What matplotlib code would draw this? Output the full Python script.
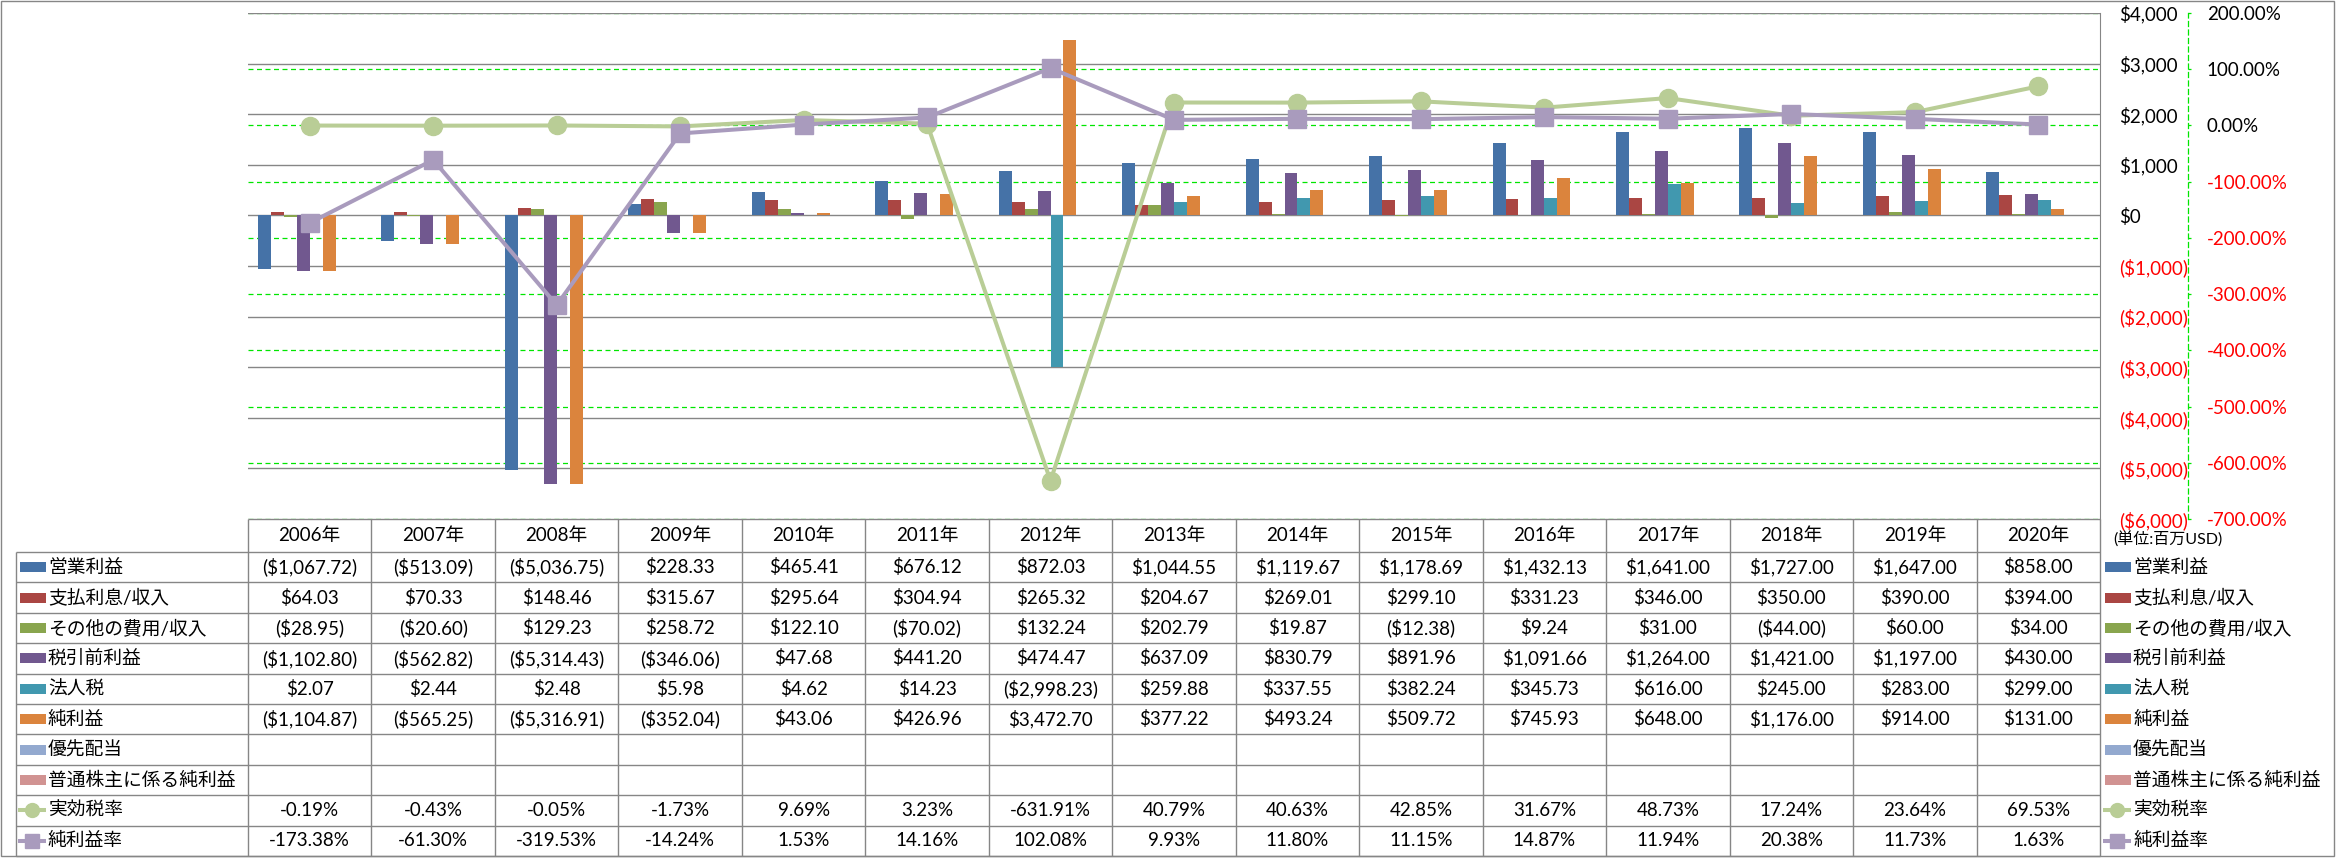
import numpy as np
import matplotlib
matplotlib.use('Agg')
import matplotlib.pyplot as plt
from matplotlib.patches import Rectangle

plt.rcParams['font.family'] = ['Lato', 'Noto Sans CJK JP']

# ---- data (百万USD) ----
years = ['2006年', '2007年', '2008年', '2009年', '2010年', '2011年', '2012年', '2013年',
         '2014年', '2015年', '2016年', '2017年', '2018年', '2019年', '2020年']
operating_income = [-1067.72, -513.09, -5036.75, 228.33, 465.41, 676.12, 872.03, 1044.55,
                    1119.67, 1178.69, 1432.13, 1641.00, 1727.00, 1647.00, 858.00]
interest = [64.03, 70.33, 148.46, 315.67, 295.64, 304.94, 265.32, 204.67,
            269.01, 299.10, 331.23, 346.00, 350.00, 390.00, 394.00]
other_expense = [-28.95, -20.60, 129.23, 258.72, 122.10, -70.02, 132.24, 202.79,
                 19.87, -12.38, 9.24, 31.00, -44.00, 60.00, 34.00]
pretax_income = [-1102.80, -562.82, -5314.43, -346.06, 47.68, 441.20, 474.47, 637.09,
                 830.79, 891.96, 1091.66, 1264.00, 1421.00, 1197.00, 430.00]
income_tax = [2.07, 2.44, 2.48, 5.98, 4.62, 14.23, -2998.23, 259.88,
              337.55, 382.24, 345.73, 616.00, 245.00, 283.00, 299.00]
net_income = [-1104.87, -565.25, -5316.91, -352.04, 43.06, 426.96, 3472.70, 377.22,
              493.24, 509.72, 745.93, 648.00, 1176.00, 914.00, 131.00]
preferred_div = [None] * 15
common_net_income = [None] * 15
effective_tax_rate = [-0.19, -0.43, -0.05, -1.73, 9.69, 3.23, -631.91, 40.79,
                      40.63, 42.85, 31.67, 48.73, 17.24, 23.64, 69.53]
net_margin = [-173.38, -61.30, -319.53, -14.24, 1.53, 14.16, 102.08, 9.93,
              11.80, 11.15, 14.87, 11.94, 20.38, 11.73, 1.63]

bar_series = [
    ('営業利益', operating_income, '#4572A7'),
    ('支払利息/収入', interest, '#AA4643'),
    ('その他の費用/収入', other_expense, '#89A54E'),
    ('税引前利益', pretax_income, '#71588F'),
    ('法人税', income_tax, '#4198AF'),
    ('純利益', net_income, '#DB843D'),
    ('優先配当', preferred_div, '#93A9CF'),
    ('普通株主に係る純利益', common_net_income, '#D19392'),
]
line_series = [
    ('実効税率', effective_tax_rate, '#B9CD96', 'o'),
    ('純利益率', net_margin, '#A99BBD', 's'),
]

money_ticks = np.arange(-6000, 4001, 1000)
pct_ticks = np.arange(-700, 201, 100)

GRAY = '#868686'
GREEN = '#00E600'
FS = 13.5


def fmt_money(v, dec=2):
    s = f'${abs(v):,.{dec}f}'
    return f'({s})' if v < 0 else s


def to_arr(vals):
    return np.array([np.nan if v is None else v for v in vals], dtype=float)


W, H = 2336, 858
fig = plt.figure(figsize=(W / 100, H / 100), dpi=100)

# layer for the data table / frame, in pixel coordinates
tab = fig.add_axes([0, 0, 1, 1])
tab.set_xlim(0, W)
tab.set_ylim(H, 0)
tab.axis('off')

PL, PR, PT, PB = 248, 2100, 13, 519
pos = [PL / W, 1 - PB / H, (PR - PL) / W, (PB - PT) / H]

ax_g = fig.add_axes(pos)   # percent axis + its gridlines (behind everything)
ax_b = ax_g.twinx()        # bars, $ axis
ax_l = ax_g.twinx()        # lines, percent scale

x = np.arange(len(years))

# percent axis
ax_g.set_xlim(-0.5, len(years) - 0.5)
ax_g.set_ylim(-700, 200)
ax_g.yaxis.tick_right()
ax_g.set_yticks(pct_ticks, [f'{t:.2f}%' for t in pct_ticks])
ax_g.set_xticks([])
ax_g.grid(axis='y', color=GREEN, ls=(0, (4, 2.8)), lw=0.9)
for s in ['left', 'top', 'bottom']:
    ax_g.spines[s].set_visible(False)
ax_g.spines['right'].set_position(('outward', 63.4))
ax_g.spines['right'].set_color(GREEN)
ax_g.spines['right'].set_linestyle((0, (4, 2.8)))
ax_g.spines['right'].set_linewidth(0.9)
ax_g.tick_params(axis='y', direction='out', length=2.5, width=0.9, color=GREEN,
                 pad=11, labelsize=FS)
for lbl, t in zip(ax_g.get_yticklabels(), pct_ticks):
    lbl.set_color('red' if t < 0 else 'black')

# bars
ax_b.set_ylim(-6000, 4000)
ax_b.set_yticks(money_ticks, [fmt_money(t, 0) for t in money_ticks])
ax_b.tick_params(axis='y', length=0, pad=13.5, labelsize=FS)
for lbl, t in zip(ax_b.get_yticklabels(), money_ticks):
    lbl.set_color('red' if t < 0 else 'black')
ax_b.grid(axis='y', color=GRAY, lw=1)
ax_b.set_axisbelow(True)
for s in ['left', 'top', 'bottom']:
    ax_b.spines[s].set_visible(False)
ax_b.spines['right'].set_color(GRAY)

n = len(bar_series)
width = 0.105
for i, (name, vals, color) in enumerate(bar_series):
    ax_b.bar(x + (i - (n - 1) / 2) * width, to_arr(vals), width, color=color, label=name)

# lines
ax_l.set_ylim(-700, 200)
ax_l.axis('off')
for name, vals, color, mk in line_series:
    ax_l.plot(x, vals, color=color, lw=2.9, marker=mk, ms=13, mfc=color, mec=color,
              label=name, clip_on=False)

# ---- data table ----
colw = (PR - PL) / len(years)
col_edges = PL + np.arange(len(years) + 1) * colw
head_top, head_bot = 519, 552
rowh = 30.4
row_edges = head_bot + np.arange(11) * rowh

kw = dict(color=GRAY, lw=1, solid_capstyle='butt')
tab.plot([PL, PR], [head_top, head_top], **kw)
for y in row_edges:
    tab.plot([16, PR], [y, y], **kw)
for xe in col_edges:
    tab.plot([xe, xe], [head_top, row_edges[-1]], **kw)
tab.plot([16, 16], [head_bot, row_edges[-1]], **kw)

for j, yr in enumerate(years):
    tab.text(col_edges[j] + colw / 2, (head_top + head_bot) / 2, yr,
             ha='center', va='center', fontsize=FS)

rows = [(name, vals, color, None) for name, vals, color in bar_series] + \
       [(name, vals, color, mk) for name, vals, color, mk in line_series]


def draw_key(x0, yc, color, mk):
    if mk is None:
        tab.add_patch(Rectangle((x0, yc - 5), 26, 10, color=color, lw=0))
    else:
        tab.plot([x0 - 2, x0 + 26], [yc, yc], color=color, lw=2.9, solid_capstyle='butt')
        tab.plot(x0 + 12, yc, marker=mk, ms=10, color=color)


for r, (name, vals, color, mk) in enumerate(rows):
    yc = row_edges[r] + rowh / 2
    draw_key(20, yc, color, mk)
    tab.text(48, yc, name, ha='left', va='center', fontsize=FS)
    draw_key(2105, yc, color, mk)
    tab.text(2133, yc, name, ha='left', va='center', fontsize=FS)
    for j, v in enumerate(vals):
        if v is None:
            continue
        s = f'{v:.2f}%' if mk is not None else fmt_money(v)
        tab.text(col_edges[j] + colw / 2, yc, s, ha='center', va='center', fontsize=FS)

tab.text(2113, 540, '(単位:百万USD)', ha='left', va='center', fontsize=11.5)

# outer frame
tab.add_patch(Rectangle((1, 1), W - 3, H - 3, fill=False, ec=GRAY, lw=1))

fig.savefig('out.png', dpi=100)
